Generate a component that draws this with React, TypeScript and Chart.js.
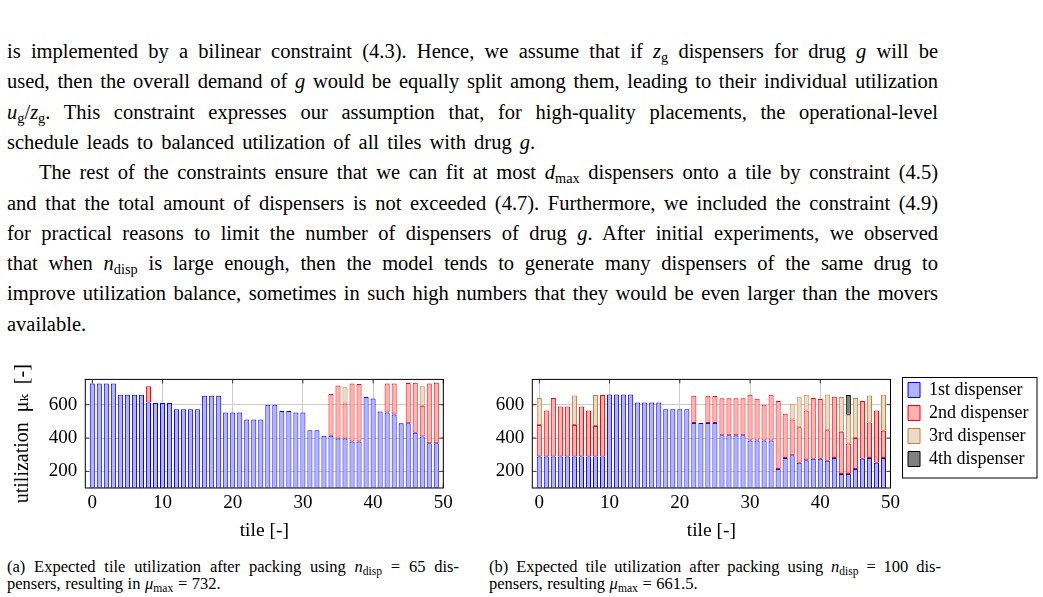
import React, { useEffect, useRef } from "react";
import { Chart, registerables } from "chart.js";

Chart.register(...registerables);

// ---------- data ----------
const tiles = [
  0, 1, 2, 3, 4, 5, 6, 7, 8, 9, 10, 11, 12, 13, 14, 15, 16, 17, 18, 19, 20, 21, 22, 23, 24,
  25, 26, 27, 28, 29, 30, 31, 32, 33, 34, 35, 36, 37, 38, 39, 40, 41, 42, 43, 44, 45, 46, 47, 48, 49,
];
const xTickValues = [0, 10, 20, 30, 40, 50];
const yTickValues = [200, 400, 600];
const dispenserLabels = ["1st dispenser", "2nd dispenser", "3rd dispenser", "4th dispenser"];

// (a) n_disp = 65
const utilA1st = [
  728, 728, 728, 728, 660, 660, 660, 660, 613, 611, 611, 611, 573, 573, 573, 573, 654, 654, 654, 553,
  553, 553, 512, 512, 512, 600, 600, 563, 563, 553, 553, 447, 447, 413, 413, 397, 397, 379, 379, 647,
  637, 559, 554, 541, 489, 488, 431, 409, 369, 369,
];
const utilA2nd = [
  null, null, null, null, null, null, null, null, 98, null, null, null, null, null, null, null, null, null, null, null,
  null, null, null, null, null, null, null, null, null, null, null, null, null, null, 252, 318, 211, 349, 345, null,
  null, null, 174, 187, null, 243, 301, 185, 359, 363,
];
const utilA3rd = [
  null, null, null, null, null, null, null, null, null, null, null, null, null, null, null, null, null, null, null, null,
  null, null, null, null, null, null, null, null, null, null, null, null, null, null, null, null, 97, null, null, null,
  null, null, null, null, null, null, null, 117, null, null,
];

// (b) n_disp = 100
const utilB1st = [
  289, 289, 289, 289, 289, 289, 289, 289, 289, 289, 661.5, 661.5, 661.5, 661.5, 613, 613, 613, 613, 573, 573,
  573, 573, 490, 490, 490, 490, 417, 417, 417, 417, 385, 385, 385, 385, 214, 280, 297, 252, 267, 276,
  276, 264, 280, 184, 184, 214, 276, 280, 252, 280,
];
const utilB2nd = [
  189, 276, 352, 301, 301, 189, 301, 276, 183, 370, null, null, null, null, null, null, null, null, null, null,
  null, null, 164, null, 164, 162, 222, 222, 222, 222, 275, 251, 215, 275, 409, 266, 214, 212, 298, 365,
  359, 182, 368, 253, 183, 186, 347, 213, 313, 163,
];
const utilB3rd = [
  163, null, null, null, null, 178, null, null, 186, null, null, null, null, null, null, null, null, null, null, null,
  null, null, null, null, null, null, null, null, null, null, null, null, null, null, null, null, 95, 181, 95, null,
  null, 215, null, 210, 173, 241, null, 163, null, 217,
];
const utilB4th = [
  null, null, null, null, null, null, null, null, null, null, null, null, null, null, null, null, null, null, null, null,
  null, null, null, null, null, null, null, null, null, null, null, null, null, null, null, null, null, null, null, null,
  null, null, null, null, 118, null, null, null, null, null,
];

// ---------- styles ----------
const fills = ["#b3b3ff", "#ffb3b3", "#ecd9c6", "#808080"];
const edges = ["#0000ff", "#ff0000", "#bf8040", "#000000"];
const SERIF = '"Liberation Serif", "DejaVu Serif", serif';

const axisPlugin = {
  id: "pgfAxis",
  beforeDatasetsDraw(chart: any) {
    const { ctx, chartArea, scales } = chart;
    const { left, right, top, bottom } = chartArea;
    const L = 4;
    ctx.save();
    ctx.strokeStyle = "rgba(0,0,0,0.75)";
    ctx.lineWidth = 1;
    ctx.beginPath();
    xTickValues.forEach((v) => {
      const px = scales.x.getPixelForValue(v);
      ctx.moveTo(px, top);
      ctx.lineTo(px, top + L);
      ctx.moveTo(px, bottom);
      ctx.lineTo(px, bottom - L);
    });
    yTickValues.forEach((v) => {
      const py = scales.y.getPixelForValue(v);
      ctx.moveTo(left, py);
      ctx.lineTo(left + L, py);
      ctx.moveTo(right, py);
      ctx.lineTo(right - L, py);
    });
    ctx.stroke();
    ctx.restore();
  },
  afterDatasetsDraw(chart: any) {
    const { ctx, chartArea } = chart;
    const { left, right, top, bottom } = chartArea;
    ctx.save();
    ctx.strokeStyle = "#000";
    ctx.lineWidth = 1;
    ctx.strokeRect(left, top, right - left, bottom - top);
    ctx.restore();
  },
};

// lets the right-hand legend keep its natural width (the layout caps side boxes)
const legendWidthPlugin = {
  id: "legendWidth",
  beforeLayout(chart: any) {
    const lg = chart.legend;
    if (lg && !lg.__patched) {
      const orig = lg.fit;
      lg.fit = function (this: any) {
        orig.call(this);
        if (this.options.display && this.columnSizes && this.columnSizes.length) {
          this.width = this.options.labels.padding + this.columnSizes[0].width + 10;
        }
      };
      lg.__patched = true;
    }
  },
  afterDraw(chart: any) {
    const lg = chart.legend;
    if (!lg || !lg.options.display) return;
    const ctx = chart.ctx;
    ctx.save();
    ctx.strokeStyle = "#000";
    ctx.lineWidth = 1;
    ctx.strokeRect(Math.round(lg.left) - 0.5, lg.top + 1.5, 134.5, 100.5);
    ctx.restore();
  },
};

function makeConfig(series: (number | null)[][], withLegend: boolean): any {
  const datasets = series.map((data, i) => ({
    label: dispenserLabels[i],
    data,
    backgroundColor: fills[i],
    borderColor: edges[i],
    borderWidth: 1,
    borderSkipped: false,
    barPercentage: 0.72,
    categoryPercentage: 1,
    clip: 0,
  }));
  const tickFont = { family: SERIF, size: 19 };
  const grid = { color: "#cccccc", drawTicks: false, offset: false, lineWidth: 1 };
  const scales: any = {
    x: {
      type: "linear",
      stacked: true,
      min: -1,
      max: 50,
      offset: false,
      afterBuildTicks: (s: any) => {
        s.ticks = xTickValues.map((v) => ({ value: v }));
      },
      ticks: { font: tickFont, color: "#000", padding: 4, maxRotation: 0, autoSkip: false },
      grid,
      border: { display: false },
      title: {
        display: true,
        text: "tile [-]",
        font: { family: SERIF, size: 19.5 },
        color: "#000",
        padding: { top: 0, bottom: 2 },
      },
      afterFit: (s: any) => {
        s.height = 57;
      },
    },
    y: {
      type: "linear",
      stacked: true,
      min: 100,
      max: 752,
      afterBuildTicks: (s: any) => {
        s.ticks = yTickValues.map((v) => ({ value: v }));
      },
      ticks: { font: tickFont, color: "#000", padding: 8 },
      grid,
      border: { display: false },
      title: withLegend
        ? { display: false }
        : {
            display: true,
            text: "utilization  μₖ  [-]",
            font: { family: SERIF, size: 20 },
            color: "#000",
            padding: { top: 11, bottom: 0 },
          },
      afterFit: (s: any) => {
        s.width = withLegend ? 52.3 : 85.3;
      },
    },
  };
  if (withLegend) {
    scales.yR = {
      type: "linear",
      position: "right",
      min: 100,
      max: 752,
      display: true,
      grid: { display: false },
      ticks: { display: false },
      border: { display: false },
      afterFit: (s: any) => {
        s.width = 12.5;
      },
    };
  }
  return {
    type: "bar",
    data: { labels: tiles, datasets },
    options: {
      responsive: false,
      animation: false,
      devicePixelRatio: 1,
      layout: {
        padding: withLegend
          ? { top: 16, right: 4.5, left: 0, bottom: 0 }
          : { top: 16, right: 16.7, left: 0, bottom: 0 },
      },
      plugins: {
        tooltip: { enabled: false },
        legend: withLegend
          ? {
              display: true,
              position: "right",
              align: "start",
              labels: {
                boxWidth: 12,
                boxHeight: 15,
                padding: 5,
                color: "#000",
                font: { family: SERIF, size: 18 },
              },
            }
          : { display: false },
      },
      scales,
    },
    plugins: withLegend ? [axisPlugin, legendWidthPlugin] : [axisPlugin],
  };
}

// ---------- text helpers ----------
const M = ({ children }: any) => <i>{children}</i>;
const S = ({ children }: any) => (
  <span style={{ fontSize: "0.7em", position: "relative", top: "0.3em", lineHeight: 0 }}>{children}</span>
);

const bodyLines: { content: any; last?: boolean; indent?: boolean }[] = [
  {
    content: (
      <>
        is implemented by a bilinear constraint (4.3). Hence, we assume that if <M>z</M>
        <S>g</S> dispensers for drug <M>g</M> will be
      </>
    ),
  },
  {
    content: (
      <>
        used, then the overall demand of <M>g</M> would be equally split among them, leading to their individual
        utilization
      </>
    ),
  },
  {
    content: (
      <>
        <M>u</M>
        <S>g</S>/<M>z</M>
        <S>g</S>. This constraint expresses our assumption that, for high-quality placements, the operational-level
      </>
    ),
  },
  { content: <>schedule leads to balanced utilization of all tiles with drug <M>g</M>.</>, last: true },
  {
    content: (
      <>
        The rest of the constraints ensure that we can fit at most <M>d</M>
        <S>max</S> dispensers onto a tile by constraint (4.5)
      </>
    ),
    indent: true,
  },
  {
    content: (
      <>and that the total amount of dispensers is not exceeded (4.7). Furthermore, we included the constraint (4.9)</>
    ),
  },
  {
    content: (
      <>
        for practical reasons to limit the number of dispensers of drug <M>g</M>. After initial experiments, we observed
      </>
    ),
  },
  {
    content: (
      <>
        that when <M>n</M>
        <S>disp</S> is large enough, then the model tends to generate many dispensers of the same drug to
      </>
    ),
  },
  {
    content: (
      <>improve utilization balance, sometimes in such high numbers that they would be even larger than the movers</>
    ),
  },
  { content: <>available.</>, last: true },
];

function BarChart({ series, withLegend, left, width }: any) {
  const ref = useRef<HTMLCanvasElement>(null);
  useEffect(() => {
    if (!ref.current) return;
    const chart = new Chart(ref.current, makeConfig(series, withLegend));
    return () => chart.destroy();
  }, []);
  return (
    <canvas
      ref={ref}
      width={width}
      height={185}
      style={{ position: "absolute", left, top: 360, width, height: 185 }}
    />
  );
}

export default function App() {
  const lineStyle = (i: number, last?: boolean, indent?: boolean): any => ({
    position: "absolute",
    left: 7,
    top: 36 + i * 30.3,
    width: 931,
    height: 30,
    lineHeight: "30px",
    fontSize: 20.5,
    wordSpacing: last ? 3 : 1.5,
    textAlign: last ? "left" : "justify",
    textAlignLast: last ? "left" : "justify",
    paddingLeft: indent ? 32 : 0,
    boxSizing: "border-box",
    whiteSpace: "normal",
  });
  const capStyle = (left: number, top: number, justify: boolean): any => ({
    position: "absolute",
    left,
    top,
    width: 452,
    height: 17,
    lineHeight: "17px",
    fontSize: 16.5,
    wordSpacing: 0.5,
    textAlign: justify ? "justify" : "left",
    textAlignLast: justify ? "justify" : "left",
  });
  return (
    <div
      style={{
        position: "absolute",
        left: 0,
        top: 0,
        width: 1043,
        height: 597,
        background: "#fff",
        color: "#000",
        fontFamily: SERIF,
        overflow: "hidden",
      }}
    >
      {bodyLines.map((l, i) => (
        <div key={i} style={lineStyle(i, l.last, l.indent)}>
          {l.content}
        </div>
      ))}
      <BarChart series={[utilA1st, utilA2nd, utilA3rd]} withLegend={false} left={0} width={460} />
      <BarChart series={[utilB1st, utilB2nd, utilB3rd, utilB4th]} withLegend={true} left={480} width={563} />
      <div style={capStyle(7, 558, true)}>
        (a) Expected tile utilization after packing using <M>n</M>
        <S>disp</S> = 65 dis-
      </div>
      <div style={capStyle(7, 575, false)}>
        pensers, resulting in <M>μ</M>
        <S>max</S> = 732.
      </div>
      <div style={capStyle(489, 558, true)}>
        (b) Expected tile utilization after packing using <M>n</M>
        <S>disp</S> = 100 dis-
      </div>
      <div style={capStyle(489, 575, false)}>
        pensers, resulting <M>μ</M>
        <S>max</S> = 661.5.
      </div>
    </div>
  );
}
